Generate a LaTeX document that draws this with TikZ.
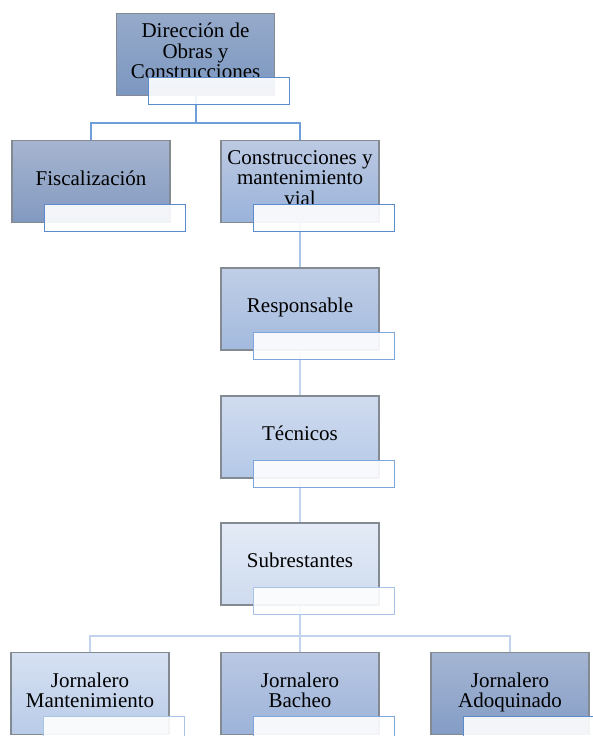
\documentclass[tikz,border=0pt]{standalone}
\usepackage{fontspec}
\setmainfont{Liberation Serif}
\usetikzlibrary{positioning,calc,backgrounds}

\definecolor{boxline}{RGB}{132,138,146}
\definecolor{dirtop}{RGB}{150,170,202}
\definecolor{dirbot}{RGB}{124,151,192}
\definecolor{fistop}{RGB}{166,181,208}
\definecolor{fisbot}{RGB}{130,153,192}
\definecolor{contop}{RGB}{188,201,226}
\definecolor{conbot}{RGB}{154,179,218}
\definecolor{restop}{RGB}{192,206,230}
\definecolor{resbot}{RGB}{163,186,222}
\definecolor{tectop}{RGB}{208,220,239}
\definecolor{tecbot}{RGB}{180,200,231}
\definecolor{subtop}{RGB}{228,235,246}
\definecolor{subbot}{RGB}{206,219,239}
\definecolor{jmtop}{RGB}{214,225,242}
\definecolor{jmbot}{RGB}{185,203,232}
\definecolor{jbtop}{RGB}{186,200,227}
\definecolor{jbbot}{RGB}{156,179,217}
\definecolor{jatop}{RGB}{165,181,211}
\definecolor{jabot}{RGB}{132,157,197}
\definecolor{edgeA}{RGB}{92,139,204}
\definecolor{edgeB}{RGB}{126,166,218}
\definecolor{edgeC}{RGB}{170,196,232}
\definecolor{linkA}{RGB}{111,159,216}
\definecolor{linkB}{RGB}{168,196,232}
\definecolor{linkC}{RGB}{194,212,237}

\begin{document}
\begin{tikzpicture}[
    x=1pt, y=-1pt, font=\fontsize{21}{20.5}\selectfont,
    unit/.style={draw=boxline, line width=1.4pt, align=center, inner sep=2pt,
      minimum width=158pt, minimum height=82pt, text depth=7pt,
      top color=#1top, bottom color=#1bot},
    lbl/.style={draw=#1, line width=0.9pt, fill=white, fill opacity=0.9,
      minimum width=141pt, minimum height=27pt, inner sep=0pt},
    link/.style={draw=#1, line width=2pt},
  ]
  \useasboundingbox (0,0) rectangle (592,736);

  % boxes
  \node[unit=dir] (dir) at (195.5,54.5) {Dirección de\\ Obras y\\ Construcciones};
  \node[unit=fis] (fis) at (91,181.5) {Fiscalización};
  \node[unit=con] (con) at (300,181.5) {Construcciones y\\ mantenimiento\\ vial};
  \node[unit=res] (resp) at (300,309) {Responsable};
  \node[unit=tec] (tec) at (300,437) {Técnicos};
  \node[unit=sub] (sub) at (300,564) {Subrestantes};
  \node[unit=jm] (jm) at (90,693.5) {Jornalero\\ Mantenimiento};
  \node[unit=jb] (jb) at (300,693.5) {Jornalero\\ Bacheo};
  \node[unit=ja] (ja) at (510,693.5) {Jornalero\\ Adoquinado};

  % empty text boxes over each unit
  \node[lbl=edgeA] (dirl) at ([shift={(23.5,-5)}]dir.south) {};
  \node[lbl=edgeA] (fisl) at ([shift={(23.5,-5)}]fis.south) {};
  \node[lbl=edgeA] (conl) at ([shift={(23.5,-5)}]con.south) {};
  \node[lbl=edgeB] (resl) at ([shift={(23.5,-5)}]resp.south) {};
  \node[lbl=edgeB] (tecl) at ([shift={(23.5,-5)}]tec.south) {};
  \node[lbl=edgeC] (subl) at ([shift={(23.5,-5)}]sub.south) {};
  \node[lbl=edgeC] (jml) at ([shift={(23.5,-5)}]jm.south) {};
  \node[lbl=edgeB] (jbl) at ([shift={(23.5,-5)}]jb.south) {};
  \node[lbl=edgeA] (jal) at ([shift={(23.5,-5)}]ja.south) {};

  \begin{scope}[on background layer]
    \coordinate (bus1) at ($(dir.south)+(0,26.5)$);
    \coordinate (bus2) at ($(sub.south)+(0,30)$);
    \draw[link=linkA] (dir.south) -- (bus1) -| (fis.north);
    \draw[link=linkA] (bus1) -| (con.north);
    \draw[link=linkB] (con.south) -- (resp.north);
    \draw[link=linkC] (resp.south) -- (tec.north);
    \draw[link=linkC] (tec.south) -- (sub.north);
    \draw[link=linkC] (sub.south) -- (bus2) -| (jm.north);
    \draw[link=linkC] (bus2) -| (ja.north);
    \draw[link=linkC] (bus2) -- (jb.north);
  \end{scope}
\end{tikzpicture}
\end{document}
